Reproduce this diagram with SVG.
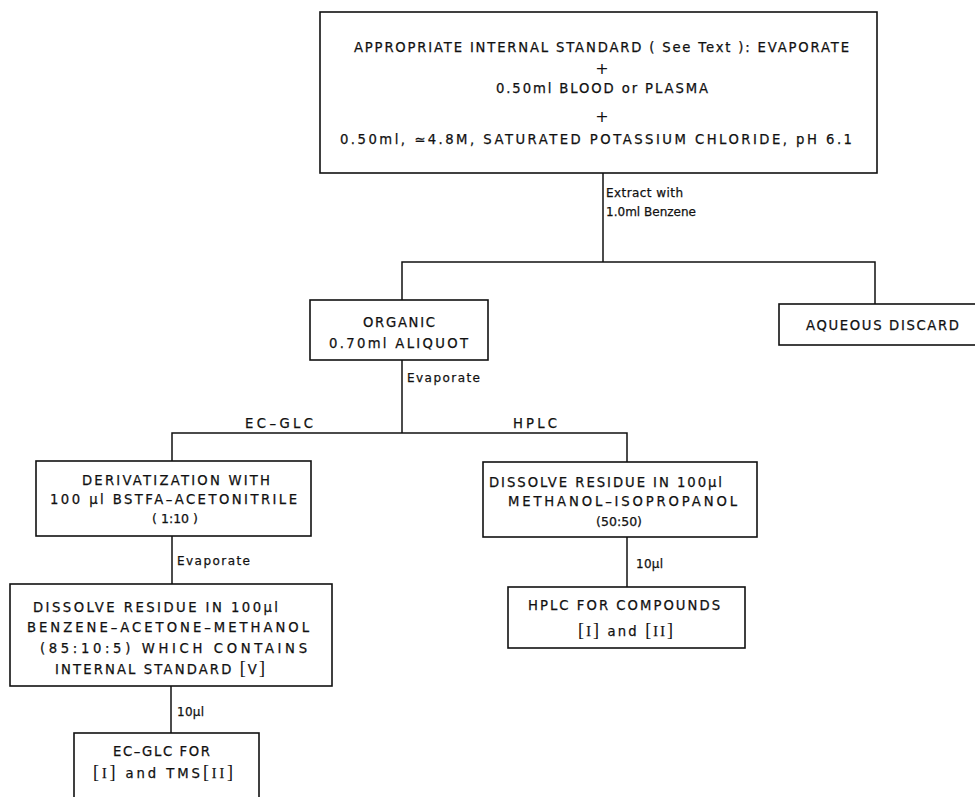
<svg xmlns="http://www.w3.org/2000/svg" width="975" height="797" viewBox="0 0 975 797">
<style>
  .box { fill: #fff; stroke: #111; stroke-width: 1.6; }
  .ln { fill: none; stroke: #111; stroke-width: 1.5; }
  text { font-family: "DejaVu Sans", "Liberation Sans", sans-serif; fill: #111; stroke: #111; stroke-width: 0.25; }
  .t { font-size: 13.2px; }
  .n { font-size: 12.5px; }
  .s { font-size: 12px; }
  .plus { font-size: 16px; stroke-width: 0; }
  .br { font-size: 18px; font-family: "Liberation Serif", serif; stroke-width: 0.1; }
  .rn { font-family: "Liberation Serif", serif; font-size: 14px; }
</style>
<rect width="975" height="797" fill="#fff"/>
<g id="connectors">
  <path class="ln" d="M603,173 V262"/>
  <path class="ln" d="M402,300 V262 H875 V304"/>
  <path class="ln" d="M402,360 V433"/>
  <path class="ln" d="M172,461 V433 H627 V462"/>
  <path class="ln" d="M172,536 V584"/>
  <path class="ln" d="M171,686 V733"/>
  <path class="ln" d="M627,537 V587"/>
  <text class="s" x="606" y="197" textLength="77" lengthAdjust="spacing">Extract with</text>
  <text class="s" x="606" y="216" textLength="90" lengthAdjust="spacing">1.0ml Benzene</text>
  <text class="s" x="407" y="382" textLength="73" lengthAdjust="spacing">Evaporate</text>
  <text class="t" x="245" y="428" textLength="68" lengthAdjust="spacing">EC–GLC</text>
  <text class="t" x="513" y="428" textLength="44" lengthAdjust="spacing">HPLC</text>
  <text class="s" x="177" y="565" textLength="73" lengthAdjust="spacing">Evaporate</text>
  <text class="s" x="177" y="716" textLength="27" lengthAdjust="spacing">10µl</text>
  <text class="s" x="636" y="568" textLength="27" lengthAdjust="spacing">10µl</text>
</g>
<g id="start">
  <rect class="box" x="320" y="12" width="557" height="161"/>
  <text class="t" x="354" y="52" textLength="495" lengthAdjust="spacing">APPROPRIATE INTERNAL STANDARD ( See Text ): EVAPORATE</text>
  <text class="plus" x="602" y="74" text-anchor="middle">+</text>
  <text class="t" x="496" y="93" textLength="212" lengthAdjust="spacing">0.50ml BLOOD or PLASMA</text>
  <text class="plus" x="602" y="122" text-anchor="middle">+</text>
  <text class="t" x="340" y="144" textLength="512" lengthAdjust="spacing">0.50ml, ≃4.8M, SATURATED POTASSIUM CHLORIDE, pH 6.1</text>
</g>
<g id="organic">
  <rect class="box" x="310" y="300" width="178" height="60"/>
  <text class="t" x="363" y="327" textLength="72" lengthAdjust="spacing">ORGANIC</text>
  <text class="t" x="329" y="348" textLength="139" lengthAdjust="spacing">0.70ml ALIQUOT</text>
</g>
<g id="aqueous">
  <rect class="box" x="779" y="304" width="200" height="41"/>
  <text class="t" x="806" y="330" textLength="153" lengthAdjust="spacing">AQUEOUS DISCARD</text>
</g>
<g id="derivatization">
  <rect class="box" x="36" y="461" width="275" height="75"/>
  <text class="t" x="82" y="485" textLength="188" lengthAdjust="spacing">DERIVATIZATION WITH</text>
  <text class="t" x="50" y="504" textLength="247" lengthAdjust="spacing">100 µl BSTFA–ACETONITRILE</text>
  <text class="n" x="152" y="523" textLength="46" lengthAdjust="spacing">( 1:10 )</text>
</g>
<g id="dissolve-glc">
  <rect class="box" x="10" y="584" width="322" height="102"/>
  <text class="t" x="33" y="612" textLength="245" lengthAdjust="spacing">DISSOLVE RESIDUE IN 100µl</text>
  <text class="t" x="27" y="632" textLength="282" lengthAdjust="spacing">BENZENE–ACETONE–METHANOL</text>
  <text class="t" x="40" y="653" textLength="267" lengthAdjust="spacing">(85:10:5) WHICH CONTAINS</text>
  <text class="t" x="55" y="674" textLength="210" lengthAdjust="spacing">INTERNAL STANDARD <tspan class="br">[</tspan>V<tspan class="br">]</tspan></text>
</g>
<g id="ecglc">
  <rect class="box" x="74" y="733" width="185" height="70"/>
  <text class="t" x="113" y="756" textLength="97" lengthAdjust="spacing">EC–GLC FOR</text>
  <text class="t" x="93" y="778" textLength="140" lengthAdjust="spacing"><tspan class="br">[</tspan><tspan class="rn">I</tspan><tspan class="br">]</tspan> and TMS<tspan class="br">[</tspan><tspan class="rn">II</tspan><tspan class="br">]</tspan></text>
</g>
<g id="dissolve-hplc">
  <rect class="box" x="483" y="462" width="274" height="75"/>
  <text class="t" x="489" y="487" textLength="233" lengthAdjust="spacing">DISSOLVE RESIDUE IN 100µl</text>
  <text class="t" x="508" y="506" textLength="229" lengthAdjust="spacing">METHANOL–ISOPROPANOL</text>
  <text class="n" x="596" y="526" textLength="46" lengthAdjust="spacing">(50:50)</text>
</g>
<g id="hplc">
  <rect class="box" x="508" y="587" width="237" height="61"/>
  <text class="t" x="528" y="610" textLength="192" lengthAdjust="spacing">HPLC FOR COMPOUNDS</text>
  <text class="t" x="578" y="636" textLength="95" lengthAdjust="spacing"><tspan class="br">[</tspan><tspan class="rn">I</tspan><tspan class="br">]</tspan> and <tspan class="br">[</tspan><tspan class="rn">II</tspan><tspan class="br">]</tspan></text>
</g>
</svg>
